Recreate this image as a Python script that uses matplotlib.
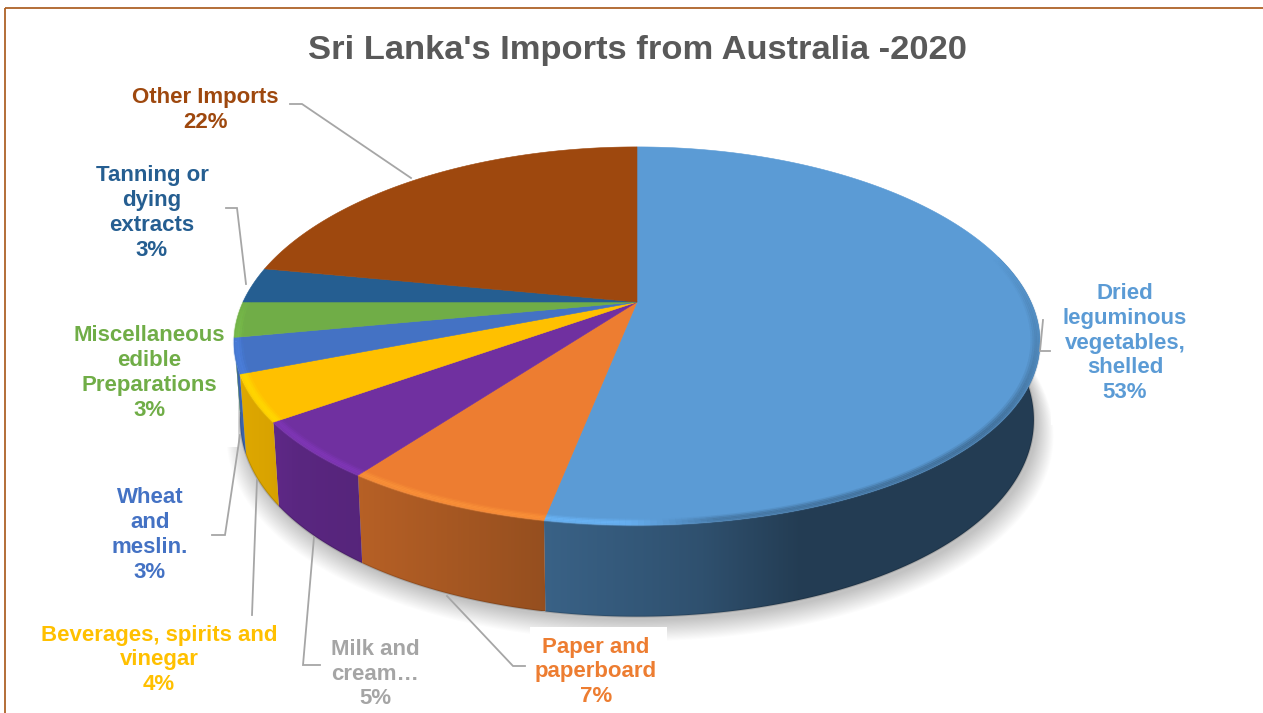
import numpy as np
import matplotlib
matplotlib.use('Agg')
import matplotlib.pyplot as plt
from matplotlib.collections import LineCollection
from matplotlib.colors import to_rgb
from matplotlib.patches import Polygon, Rectangle

# import shares in clockwise order, starting at 12 o'clock
categories = ['Dried\nleguminous\nvegetables,\nshelled', 'Paper and\npaperboard', 'Milk and\ncream…',
              'Beverages, spirits and\nvinegar', 'Wheat\nand\nmeslin.', 'Miscellaneous\nedible\nPreparations',
              'Tanning or\ndying\nextracts', 'Other Imports']
shares = [53, 7, 5, 4, 3, 3, 3, 22]
slice_colors = ['#5B9BD5', '#ED7D31', '#7030A0', '#FFC000', '#4472C4', '#70AD47', '#255E91', '#9E480E']
label_colors = ['#5B9BD5', '#ED7D31', '#A5A5A5', '#FFC000', '#4472C4', '#70AD47', '#255E91', '#9E480E']
label_x = [1125, 596, 375, 159, 150, 149, 152, 205]
label_y = [343, 672, 674, 660, 535, 373, 213, 110]

# leader lines from each label to its slice
leaders = [
    [(1050, 351), (1040, 351), (1043, 320)],
    [(525, 666), (513, 666), (447, 596)],
    [(320, 665), (303, 665), (314, 537)],
    [(252, 615), (257, 480)],
    [(212, 535), (225, 535), (240, 435)],
    [],
    [(226, 208), (237, 208), (246, 284)],
    [(290, 104), (302, 104), (411, 178)],
]

# pie geometry: a tilted disc seen in perspective
CX, CY = 637, 302
A, B = 394, 183
KX, KY = 0.21, 0.18
DEPTH = 75
FONT = 'Liberation Sans'


def project(theta, r=1.0, h=0.0):
    sx = r * np.sin(theta)
    sy = r * np.cos(theta)
    return (CX + A * sx * (1 - 0.015 * h) / (1 + KX * sy),
            CY + (-B * sy + DEPTH * h) / (1 + KY * sy))


def wall_shade(x):
    # the side of the pie gets darker from left to right
    return np.interp(x, [233, 270, 300, 360, 545, 700, 800, 1050],
                     [0.88, 0.85, 0.80, 0.77, 0.63, 0.52, 0.39, 0.39])


fig = plt.figure(figsize=(12.63, 7.13), dpi=100, facecolor='white')
ax = fig.add_axes([0, 0, 1, 1])
ax.set_xlim(0, 1263)
ax.set_ylim(713, 0)
ax.axis('off')

# chart frame, only top and left fall inside the canvas
ax.add_patch(Rectangle((5, 8), 1400, 900, fc='none', ec='#AE6228', lw=1.3, zorder=1))

# soft shadow under the pie
full = np.linspace(0, 2 * np.pi, 360)
for i in range(20):
    grow = 1.0 + i * 0.0022
    sx, sy = project(full, r=1.0, h=1.0)
    xs = CX + (sx - CX) * grow + 3
    ys = CY + 30 + (sy - CY - 30) * grow + 4 + i * 0.45
    ax.add_patch(Polygon(np.column_stack([xs, ys]), fc='black', ec='none', alpha=0.01, zorder=2))

# white label boxes cut into the shadow
ax.add_patch(Rectangle((60, 300), 178, 147, fc='white', ec='none', zorder=3))
ax.add_patch(Rectangle((1051, 270), 140, 155, fc='white', ec='none', zorder=3))
ax.add_patch(Rectangle((530, 627), 137, 90, fc='white', ec='none', zorder=3))

edges = np.radians(np.concatenate([[0], np.cumsum(shares)]) * 3.6)

# side walls first, the top face goes over them
for i, color in enumerate(slice_colors):
    t0, t1 = max(edges[i], np.radians(75)), min(edges[i + 1], np.radians(260))
    if t1 <= t0:
        continue
    th = np.linspace(t0, t1, 120)
    tx, ty = project(th)
    bx, by = project(th, h=1.0)
    poly = np.column_stack([np.r_[tx, bx[::-1]], np.r_[ty, by[::-1]]])
    x0, x1 = poly[:, 0].min(), poly[:, 0].max()
    y0, y1 = poly[:, 1].min(), poly[:, 1].max()
    xx = np.linspace(x0, x1, 256)
    grad = np.outer(wall_shade(xx), np.array(to_rgb(color)))[np.newaxis, :, :]
    im = ax.imshow(grad, extent=(x0, x1, y1, y0), aspect='auto', interpolation='bilinear', zorder=4)
    im.set_clip_path(Polygon(poly, transform=ax.transData))
    ax.plot(bx, by, color='black', alpha=0.14, lw=1.4, zorder=4.5, solid_capstyle='butt')

ax.set_xlim(0, 1263)
ax.set_ylim(713, 0)

# top face of each slice
for i, color in enumerate(slice_colors):
    th = np.linspace(edges[i], edges[i + 1], 200)
    tx, ty = project(th)
    pts = np.column_stack([np.r_[CX, tx], np.r_[CY, ty]])
    ax.add_patch(Polygon(pts, fc=color, ec=color, lw=0.4, zorder=5))

# bevel along the front rim: light on the left, soft dark edge on the right
for i, color in enumerate(slice_colors):
    t0, t1 = max(edges[i], np.radians(75)), min(edges[i + 1], np.radians(285))
    if t1 <= t0:
        continue
    base = np.array(to_rgb(color))
    th = np.linspace(t0, t1, 160)
    for r, alpha in [(1.0, 0.3), (0.995, 0.5), (0.99, 0.55), (0.985, 0.4), (0.98, 0.18)]:
        rx, ry = project(th, r=r)
        seg = np.stack([np.column_stack([rx[:-1], ry[:-1]]), np.column_stack([rx[1:], ry[1:]])], axis=1)
        mix = np.interp(rx[:-1], [230, 630, 720, 1040], [0.25, 0.2, -0.3, -0.45])
        # fade in from the back of the disc towards the front
        ramp = np.interp(np.degrees(th[:-1]), [75, 125, 255, 275], [0, 1, 1, 0])
        cols = [(*np.clip(base * (1 + m), 0, 1), alpha * w) for m, w in zip(mix, ramp)]
        ax.add_collection(LineCollection(seg, colors=cols, linewidths=1.6, zorder=6, capstyle='butt'))

for pts in leaders:
    if pts:
        xs, ys = zip(*pts)
        ax.plot(xs, ys, color='#A6A6A6', lw=1.3, zorder=7, solid_joinstyle='miter')

for name, share, color, x, y in zip(categories, shares, label_colors, label_x, label_y):
    ax.text(x, y, f'{name}\n{share}%', color=color, fontsize=16, fontweight='bold', family=FONT,
            ha='center', va='center', linespacing=1.23, zorder=8)

ax.text(637, 51, "Sri Lanka's Imports from Australia -2020", color='#595959', fontsize=24.8,
        fontweight='bold', family=FONT, ha='center', va='center', zorder=8)

fig.savefig('out.png', dpi=100)
